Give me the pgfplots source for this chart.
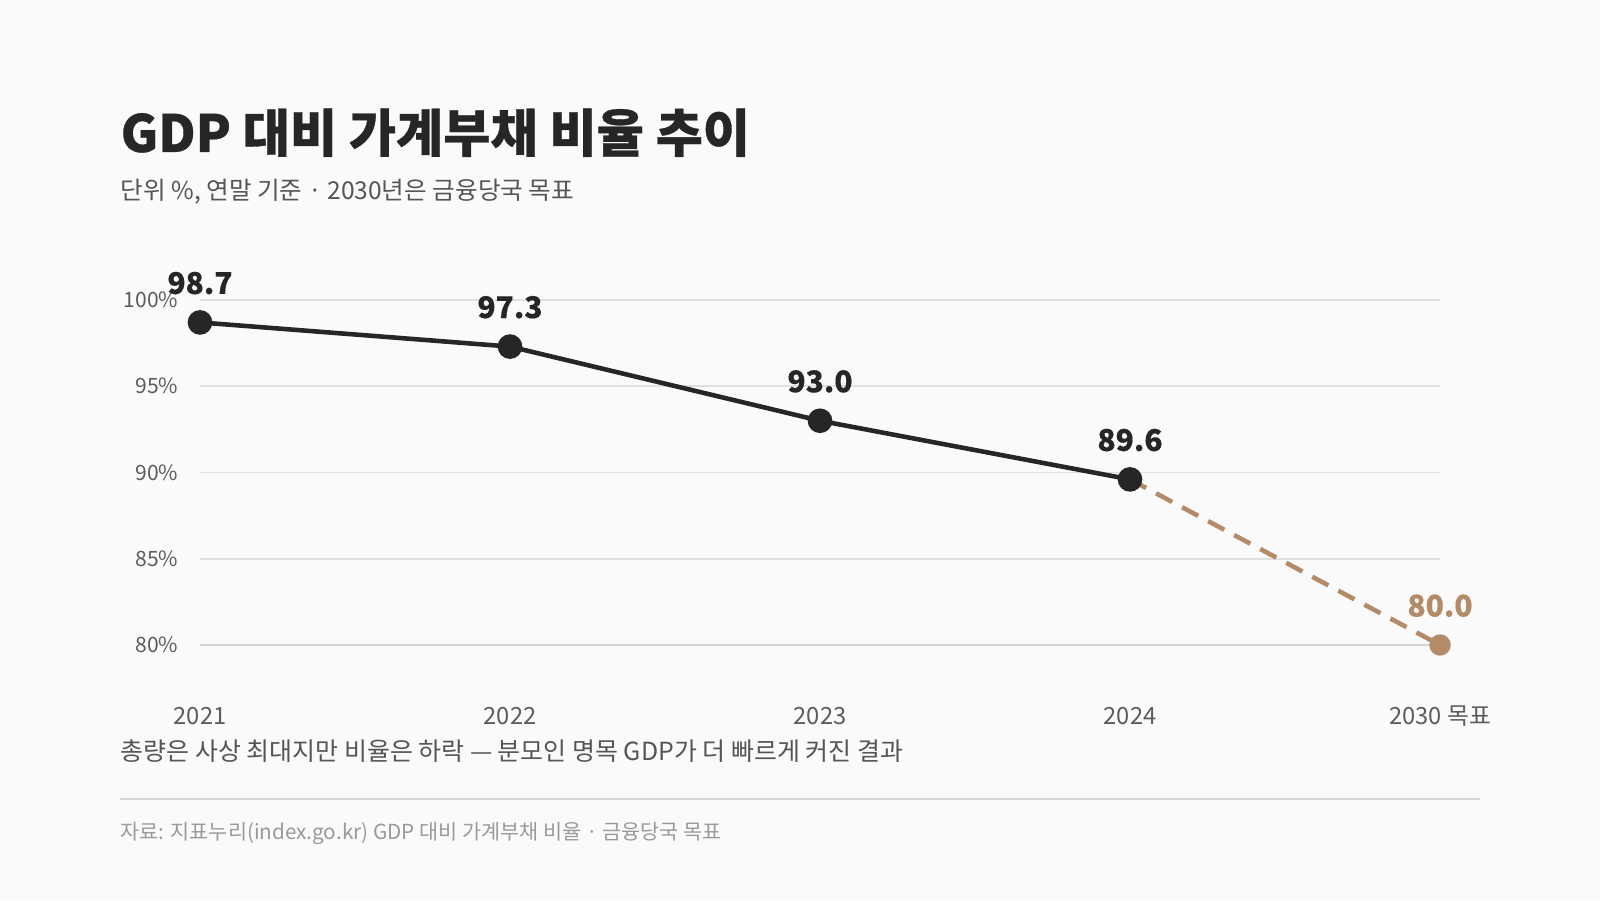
\documentclass[border=0pt]{standalone}
\usepackage{fontspec}
\setmainfont{Noto Sans CJK KR}
\usepackage{pgfplots}
\pgfplotsset{compat=1.18}

\definecolor{bg}{HTML}{FAFAFA}
\definecolor{ink}{HTML}{262626}
\definecolor{subtxt}{HTML}{555555}
\definecolor{ticktxt}{HTML}{5C5C5C}
\definecolor{srctxt}{HTML}{9A9A9A}
\definecolor{gridc}{HTML}{E0E0E0}
\definecolor{rulec}{HTML}{D4D4D4}
\definecolor{target}{HTML}{B38B68}

\begin{document}
\begin{tikzpicture}[x=1cm,y=1cm]
\fill[bg] (0,0) rectangle (16,9);
\path[use as bounding box] (0,0) rectangle (16,9);

% title block
\node[anchor=base west, inner sep=0, text=ink,
  font=\fontsize{14.6}{16}\selectfont\bfseries\addfontfeatures{FakeBold=0.6}]
  at (1.20,7.48) {GDP 대비 가계부채 비율 추이};
\node[anchor=base west, inner sep=0, text=subtxt, font=\fontsize{7.0}{8}\selectfont]
  at (1.20,7.00) {단위 \%, 연말 기준 · 2030년은 금융당국 목표};

% note and source
\node[anchor=base west, inner sep=0, text=subtxt, font=\fontsize{7.1}{8}\selectfont]
  at (1.20,1.40) {총량은 사상 최대지만 비율은 하락 — 분모인 명목 GDP가 더 빠르게 커진 결과};
\draw[rulec, line width=0.45pt] (1.20,1.01) -- (14.80,1.01);
\node[anchor=base west, inner sep=0, text=srctxt, font=\fontsize{5.9}{7}\selectfont]
  at (1.20,0.61) {자료: 지표누리(index.go.kr) GDP 대비 가계부채 비율 · 금융당국 목표};

\begin{axis}[
  at={(2.00cm,2.55cm)}, anchor=south west,
  scale only axis, width=12.4cm, height=3.45cm,
  xmin=0, xmax=4, ymin=80, ymax=100,
  clip=false,
  axis line style={draw=none},
  major tick length=0pt,
  tick style={draw=none},
  xtick={0,1,2,3,4},
  xticklabels={2021,2022,2023,2024,2030 목표},
  ytick={80,85,90,95,100},
  yticklabel={\pgfmathprintnumber{\tick}\%},
  /pgf/number format/assume math mode=true,
  ymajorgrids,
  grid style={gridc, line width=0.43pt},
  tick label style={text=ticktxt},
  xticklabel style={inner sep=0pt, anchor=base, yshift=-0.795cm,
    font=\fontsize{6.75}{8}\selectfont},
  yticklabel style={inner sep=0pt, anchor=east, xshift=-0.21cm,
    font=\fontsize{6.0}{8}\selectfont},
  value label/.style={
    nodes near coords={\pgfmathprintnumber[fixed,fixed zerofill,precision=1]{\pgfplotspointmeta}},
    point meta=y,
    every node near coord/.append style={anchor=base, yshift=0.285cm, inner sep=0pt,
      font=\fontsize{8.5}{10}\selectfont\bfseries\addfontfeatures{FakeBold=0.4}},
  },
]
% baseline grid line drawn slightly darker
\addplot[draw=rulec, line width=0.45pt, forget plot] coordinates {(0,80) (4,80)};

% 2024 -> 2030 target path
\addplot[target, line width=1.3pt, dash pattern=on 5.2pt off 3.2pt, forget plot]
  coordinates {(3,89.6) (4,80.0)};

% actual ratio
\addplot[ink, line width=1.3pt, mark=*, mark size=2.85pt,
  mark options={fill=ink, draw=ink, solid}, value label,
  every node near coord/.append style={text=ink}]
  coordinates {(0,98.7) (1,97.3) (2,93.0) (3,89.6)};

% 2030 target point
\addplot[only marks, mark=*, mark size=2.85pt,
  mark options={fill=target, draw=target}, value label,
  every node near coord/.append style={text=target}]
  coordinates {(4,80.0)};
\end{axis}
\end{tikzpicture}
\end{document}
